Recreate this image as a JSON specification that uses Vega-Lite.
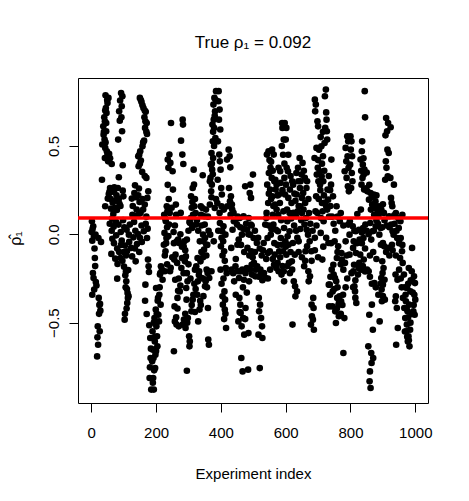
{
"$schema":"https://vega.github.io/schema/vega-lite/v6.json",
"width":350,"height":325,
"autosize":{"type":"none"},
"padding":{"left":78,"top":78,"right":41,"bottom":98},
"background":"white",
"title":{"text":"True ρ₁ = 0.092","fontSize":17,"fontWeight":"normal","font":"Liberation Sans","color":"black","anchor":"middle","baseline":"alphabetic","offset":13},
"config":{"view":{"stroke":"black","strokeWidth":1},"axis":{"grid":false,"domain":false,"tickColor":"black","tickSize":9,"labelFont":"Liberation Sans","labelFontSize":15,"labelColor":"black","titleFont":"Liberation Sans","titleFontSize":15,"titleFontWeight":"normal","titleColor":"black"}},
"layer":[
{"data":{"values":[
{"i":44,"rho":0.787},{"i":53,"rho":0.772},{"i":50,"rho":0.743},{"i":45,"rho":0.715},{"i":47,"rho":0.687},{"i":40,"rho":0.662},{"i":42,"rho":0.640},{"i":37,"rho":0.611},{"i":46,"rho":0.583},{"i":38,"rho":0.564},{"i":41,"rho":0.536},{"i":34,"rho":0.508},{"i":43,"rho":0.489},{"i":48,"rho":0.470},{"i":55,"rho":0.455},{"i":42,"rho":0.432},{"i":52,"rho":0.413},{"i":63,"rho":0.398},
{"i":92,"rho":0.800},{"i":96,"rho":0.781},{"i":89,"rho":0.757},{"i":94,"rho":0.725},{"i":86,"rho":0.696},{"i":93,"rho":0.662},{"i":88,"rho":0.643},{"i":95,"rho":0.583},{"i":83,"rho":0.536},{"i":97,"rho":0.391},{"i":85,"rho":0.323},
{"i":150,"rho":0.772},{"i":155,"rho":0.749},{"i":161,"rho":0.715},{"i":168,"rho":0.693},{"i":164,"rho":0.662},{"i":171,"rho":0.630},{"i":166,"rho":0.602},{"i":172,"rho":0.568},{"i":163,"rho":0.530},{"i":158,"rho":0.498},{"i":151,"rho":0.470},{"i":145,"rho":0.442},{"i":153,"rho":0.417},{"i":146,"rho":0.385},{"i":157,"rho":0.353},{"i":170,"rho":0.319},
{"i":33,"rho":0.309},
{"i":58,"rho":0.262},{"i":71,"rho":0.266},{"i":82,"rho":0.262},{"i":97,"rho":0.247},{"i":54,"rho":0.228},{"i":78,"rho":0.221},{"i":99,"rho":0.215},{"i":51,"rho":0.202},{"i":75,"rho":0.191},{"i":87,"rho":0.172},{"i":43,"rho":0.159},{"i":61,"rho":0.145},{"i":79,"rho":0.138},{"i":68,"rho":0.115},
{"i":135,"rho":0.277},{"i":147,"rho":0.259},{"i":133,"rho":0.234},{"i":125,"rho":0.202},{"i":149,"rho":0.183},{"i":165,"rho":0.168},{"i":160,"rho":0.140},{"i":140,"rho":0.140},{"i":127,"rho":0.111},{"i":143,"rho":0.108},{"i":176,"rho":0.243},{"i":173,"rho":0.206},
{"i":2,"rho":0.074},{"i":6,"rho":0.045},{"i":1,"rho":0.013},{"i":13,"rho":-0.002},{"i":3,"rho":-0.036},{"i":22,"rho":-0.021},{"i":30,"rho":-0.043},{"i":64,"rho":0.089},{"i":76,"rho":0.070},{"i":69,"rho":0.043},{"i":84,"rho":0.055},{"i":102,"rho":0.040},{"i":91,"rho":0.013},{"i":109,"rho":0.026},{"i":119,"rho":0.055},{"i":116,"rho":-0.002},{"i":130,"rho":-0.017},{"i":144,"rho":0.002},{"i":162,"rho":0.017},{"i":174,"rho":0.032},{"i":172,"rho":-0.021},{"i":156,"rho":-0.043},{"i":141,"rho":-0.055},{"i":117,"rho":-0.043},{"i":104,"rho":-0.064},{"i":94,"rho":-0.036},{"i":77,"rho":-0.006},{"i":65,"rho":-0.025},{"i":110,"rho":-0.096},{"i":123,"rho":-0.077},
{"i":11,"rho":-0.134},{"i":62,"rho":-0.111},{"i":74,"rho":-0.138},{"i":90,"rho":-0.134},{"i":81,"rho":-0.168},{"i":101,"rho":-0.183},{"i":126,"rho":-0.125},{"i":137,"rho":-0.153},{"i":114,"rho":-0.202},{"i":105,"rho":-0.232},{"i":108,"rho":-0.266},{"i":106,"rho":-0.300},{"i":112,"rho":-0.332},{"i":113,"rho":-0.360},{"i":111,"rho":-0.389},{"i":103,"rho":-0.483},{"i":80,"rho":-0.251},{"i":5,"rho":-0.219},{"i":7,"rho":-0.247},{"i":14,"rho":-0.270},{"i":9,"rho":-0.313},{"i":3,"rho":-0.342},{"i":23,"rho":-0.360},{"i":27,"rho":-0.394},{"i":28,"rho":-0.432},{"i":175,"rho":-0.143},{"i":177,"rho":-0.181},{"i":178,"rho":-0.213},{"i":167,"rho":-0.285},{"i":166,"rho":-0.376},{"i":171,"rho":-0.451},{"i":179,"rho":-0.515},
{"i":20,"rho":-0.521},{"i":26,"rho":-0.549},{"i":19,"rho":-0.583},{"i":21,"rho":-0.625},{"i":18,"rho":-0.691},{"i":182,"rho":-0.587},{"i":184,"rho":-0.647},{"i":183,"rho":-0.700},{"i":181,"rho":-0.753},{"i":180,"rho":-0.813},{"i":185,"rho":-0.879},
{"i":4,"rho":0.03},{"i":8,"rho":-0.01},{"i":10,"rho":-0.08},{"i":12,"rho":-0.18},{"i":16,"rho":-0.29},{"i":24,"rho":-0.45},{"i":25,"rho":-0.40},
{"i":56,"rho":0.24},{"i":60,"rho":0.20},{"i":66,"rho":0.18},{"i":70,"rho":0.24},{"i":73,"rho":0.15},{"i":80,"rho":0.19},{"i":85,"rho":0.20},{"i":90,"rho":0.16},{"i":98,"rho":0.08},{"i":57,"rho":0.06},{"i":63,"rho":0.02},{"i":70,"rho":-0.05},{"i":80,"rho":-0.08},{"i":86,"rho":-0.10},{"i":92,"rho":-0.06},{"i":96,"rho":-0.15},{"i":100,"rho":-0.10},{"i":107,"rho":-0.12},
{"i":107,"rho":-0.21},{"i":110,"rho":-0.31},{"i":115,"rho":-0.35},{"i":109,"rho":-0.42},{"i":104,"rho":-0.45},
{"i":128,"rho":0.16},{"i":132,"rho":0.07},{"i":136,"rho":0.02},{"i":138,"rho":0.21},{"i":145,"rho":0.22},{"i":152,"rho":0.12},{"i":155,"rho":0.05},{"i":158,"rho":0.20},{"i":168,"rho":0.06},{"i":170,"rho":0.10},{"i":150,"rho":-0.02},{"i":135,"rho":-0.08},{"i":148,"rho":-0.10},
{"i":49,"rho":0.76},{"i":43,"rho":0.70},{"i":46,"rho":0.63},{"i":39,"rho":0.58},{"i":44,"rho":0.52},{"i":50,"rho":0.45},{"i":58,"rho":0.43},
{"i":153,"rho":0.76},{"i":158,"rho":0.73},{"i":165,"rho":0.70},{"i":167,"rho":0.64},{"i":170,"rho":0.58},{"i":160,"rho":0.52},{"i":148,"rho":0.45},{"i":150,"rho":0.40},{"i":165,"rho":0.33},
{"i":385,"rho":0.810},{"i":380,"rho":0.772},{"i":377,"rho":0.734},{"i":382,"rho":0.696},{"i":378,"rho":0.649},{"i":374,"rho":0.621},{"i":379,"rho":0.602},{"i":383,"rho":0.545},{"i":375,"rho":0.526},{"i":371,"rho":0.460},{"i":376,"rho":0.432},{"i":369,"rho":0.394},{"i":373,"rho":0.366},{"i":368,"rho":0.319},{"i":372,"rho":0.281},{"i":370,"rho":0.243},
{"i":246,"rho":0.630},{"i":282,"rho":0.649},{"i":283,"rho":0.621},{"i":277,"rho":0.530},{"i":241,"rho":0.451},{"i":236,"rho":0.423},{"i":244,"rho":0.404},{"i":238,"rho":0.376},{"i":251,"rho":0.357},{"i":281,"rho":0.451},{"i":284,"rho":0.398},{"i":316,"rho":0.366},{"i":344,"rho":0.334},{"i":252,"rho":0.253},{"i":317,"rho":0.281},{"i":313,"rho":0.262},
{"i":261,"rho":0.168},{"i":233,"rho":0.159},{"i":235,"rho":0.130},{"i":308,"rho":0.215},{"i":312,"rho":0.183},{"i":318,"rho":0.159},{"i":338,"rho":0.159},{"i":343,"rho":0.149},{"i":354,"rho":0.140},{"i":366,"rho":0.168},{"i":381,"rho":0.149},
{"i":225,"rho":0.111},{"i":242,"rho":0.121},{"i":262,"rho":0.111},{"i":276,"rho":0.121},{"i":307,"rho":0.092},{"i":314,"rho":0.111},{"i":339,"rho":0.111},{"i":349,"rho":0.102},
{"i":230,"rho":0.074},{"i":240,"rho":0.055},{"i":226,"rho":0.008},{"i":232,"rho":-0.021},{"i":224,"rho":-0.059},{"i":229,"rho":-0.096},{"i":254,"rho":0.013},{"i":264,"rho":-0.040},{"i":271,"rho":-0.049},{"i":287,"rho":-0.040},{"i":285,"rho":-0.068},{"i":305,"rho":0.064},{"i":311,"rho":0.036},{"i":323,"rho":0.055},{"i":350,"rho":0.055},{"i":345,"rho":-0.002},{"i":351,"rho":-0.021},{"i":355,"rho":-0.059},{"i":348,"rho":-0.087},{"i":346,"rho":-0.040},{"i":367,"rho":-0.002},{"i":378,"rho":-0.040},
{"i":215,"rho":-0.181},{"i":227,"rho":-0.209},{"i":212,"rho":-0.228},{"i":220,"rho":-0.257},{"i":243,"rho":-0.209},{"i":256,"rho":-0.143},{"i":260,"rho":-0.115},{"i":265,"rho":-0.162},{"i":280,"rho":-0.134},{"i":292,"rho":-0.125},{"i":289,"rho":-0.153},{"i":278,"rho":-0.191},{"i":328,"rho":-0.134},{"i":337,"rho":-0.153},{"i":324,"rho":-0.181},{"i":333,"rho":-0.209},{"i":356,"rho":-0.200},{"i":359,"rho":-0.219},{"i":371,"rho":-0.209},{"i":364,"rho":-0.247},{"i":353,"rho":-0.266},{"i":351,"rho":-0.294},{"i":259,"rho":-0.257},{"i":297,"rho":-0.266},{"i":293,"rho":-0.304},{"i":315,"rho":-0.342},{"i":329,"rho":-0.266},{"i":340,"rho":-0.247},
{"i":200,"rho":-0.304},{"i":210,"rho":-0.342},{"i":205,"rho":-0.376},{"i":214,"rho":-0.398},{"i":199,"rho":-0.426},{"i":207,"rho":-0.455},{"i":195,"rho":-0.474},{"i":209,"rho":-0.493},{"i":201,"rho":-0.521},{"i":189,"rho":-0.549},{"i":203,"rho":-0.577},{"i":196,"rho":-0.606},{"i":204,"rho":-0.634},{"i":190,"rho":-0.653},
{"i":257,"rho":-0.408},{"i":266,"rho":-0.360},{"i":273,"rho":-0.323},{"i":258,"rho":-0.493},{"i":263,"rho":-0.511},{"i":270,"rho":-0.521},{"i":286,"rho":-0.483},{"i":298,"rho":-0.474},{"i":282,"rho":-0.511},{"i":291,"rho":-0.530},{"i":302,"rho":-0.577},{"i":304,"rho":-0.606},{"i":303,"rho":-0.634},{"i":294,"rho":-0.370},{"i":313,"rho":-0.370},{"i":327,"rho":-0.342},{"i":336,"rho":-0.376},{"i":334,"rho":-0.426},{"i":309,"rho":-0.436},{"i":330,"rho":-0.493},{"i":360,"rho":-0.417},{"i":361,"rho":-0.596},{"i":363,"rho":-0.625},{"i":255,"rho":-0.662},
{"i":198,"rho":-0.681},{"i":188,"rho":-0.719},{"i":197,"rho":-0.757},{"i":191,"rho":-0.813},{"i":193,"rho":-0.879},{"i":295,"rho":-0.772},
{"i":193,"rho":-0.50},{"i":197,"rho":-0.58},{"i":202,"rho":-0.45},{"i":206,"rho":-0.36},{"i":211,"rho":-0.30},{"i":213,"rho":-0.22},{"i":218,"rho":-0.20},{"i":200,"rho":-0.66},{"i":192,"rho":-0.70},{"i":194,"rho":-0.77},{"i":190,"rho":-0.84},
{"i":228,"rho":0.09},{"i":234,"rho":0.04},{"i":238,"rho":-0.01},{"i":231,"rho":-0.05},{"i":227,"rho":-0.12},{"i":234,"rho":-0.17},{"i":245,"rho":-0.19},{"i":250,"rho":-0.13},{"i":255,"rho":-0.05},{"i":258,"rho":0.05},{"i":248,"rho":0.15},{"i":239,"rho":0.20},{"i":236,"rho":0.28},
{"i":268,"rho":-0.03},{"i":275,"rho":0.0},{"i":280,"rho":-0.07},{"i":290,"rho":-0.09},{"i":295,"rho":-0.03},{"i":300,"rho":0.02},{"i":303,"rho":0.07},{"i":270,"rho":-0.25},{"i":268,"rho":-0.32},{"i":275,"rho":-0.29},{"i":285,"rho":-0.22},{"i":300,"rho":-0.17},{"i":295,"rho":-0.22},{"i":306,"rho":-0.25},{"i":266,"rho":-0.42},{"i":262,"rho":-0.47},{"i":290,"rho":-0.45},{"i":296,"rho":-0.50},
{"i":310,"rho":0.15},{"i":320,"rho":0.20},{"i":322,"rho":0.12},{"i":326,"rho":0.08},{"i":330,"rho":0.02},{"i":335,"rho":-0.04},{"i":340,"rho":-0.10},{"i":345,"rho":-0.13},{"i":355,"rho":-0.12},{"i":358,"rho":-0.06},{"i":362,"rho":0.02},{"i":360,"rho":0.10},{"i":340,"rho":0.05},{"i":320,"rho":-0.20},{"i":318,"rho":-0.28},{"i":322,"rho":-0.31},{"i":332,"rho":-0.23},{"i":345,"rho":-0.25},{"i":357,"rho":-0.30},{"i":362,"rho":-0.21},{"i":310,"rho":-0.40},{"i":320,"rho":-0.44},{"i":338,"rho":-0.40},{"i":346,"rho":-0.35},
{"i":384,"rho":0.76},{"i":381,"rho":0.67},{"i":376,"rho":0.58},{"i":379,"rho":0.50},{"i":372,"rho":0.40},{"i":375,"rho":0.34},{"i":366,"rho":0.30},{"i":371,"rho":0.21},{"i":385,"rho":0.20},
{"i":393,"rho":0.810},{"i":392,"rho":0.753},{"i":396,"rho":0.706},{"i":394,"rho":0.649},{"i":398,"rho":0.593},{"i":391,"rho":0.526},{"i":395,"rho":0.451},{"i":397,"rho":0.413},{"i":399,"rho":0.366},{"i":390,"rho":0.309},{"i":401,"rho":0.262},{"i":403,"rho":0.225},{"i":389,"rho":0.177},{"i":402,"rho":0.159},{"i":409,"rho":0.140},{"i":396,"rho":0.121},
{"i":424,"rho":0.479},{"i":427,"rho":0.442},{"i":419,"rho":0.423},{"i":429,"rho":0.379},{"i":425,"rho":0.262},{"i":431,"rho":0.215},{"i":428,"rho":0.187},{"i":434,"rho":0.168},{"i":420,"rho":0.159},{"i":435,"rho":0.140},{"i":439,"rho":0.121},{"i":430,"rho":0.111},
{"i":499,"rho":0.338},{"i":491,"rho":0.281},{"i":475,"rho":0.272},{"i":489,"rho":0.234},{"i":493,"rho":0.206},
{"i":589,"rho":0.630},{"i":590,"rho":0.602},{"i":594,"rho":0.536},{"i":547,"rho":0.470},{"i":558,"rho":0.479},{"i":563,"rho":0.451},{"i":542,"rho":0.451},{"i":553,"rho":0.376},{"i":548,"rho":0.347},{"i":578,"rho":0.376},{"i":583,"rho":0.357},{"i":557,"rho":0.319},{"i":568,"rho":0.309},{"i":584,"rho":0.291},{"i":543,"rho":0.281},{"i":552,"rho":0.253},{"i":569,"rho":0.253},{"i":579,"rho":0.225},{"i":559,"rho":0.215},{"i":546,"rho":0.177},{"i":567,"rho":0.168},{"i":582,"rho":0.177},{"i":541,"rho":0.121},{"i":560,"rho":0.111},{"i":577,"rho":0.111},{"i":593,"rho":0.130},
{"i":397,"rho":0.064},{"i":408,"rho":0.045},{"i":404,"rho":0.017},{"i":414,"rho":-0.002},{"i":407,"rho":-0.040},{"i":400,"rho":-0.068},{"i":410,"rho":-0.096},{"i":440,"rho":0.074},{"i":450,"rho":0.055},{"i":436,"rho":0.026},{"i":458,"rho":0.092},{"i":470,"rho":0.102},{"i":486,"rho":0.092},{"i":492,"rho":0.055},{"i":481,"rho":0.026},{"i":465,"rho":-0.002},{"i":455,"rho":-0.030},{"i":490,"rho":-0.002},{"i":501,"rho":-0.021},{"i":511,"rho":-0.049},{"i":532,"rho":-0.049},{"i":544,"rho":-0.021},{"i":554,"rho":-0.002},{"i":537,"rho":0.055},{"i":540,"rho":0.092},{"i":562,"rho":0.055},{"i":570,"rho":0.026},{"i":576,"rho":0.017},{"i":585,"rho":-0.021},{"i":588,"rho":-0.059},{"i":580,"rho":-0.096},{"i":566,"rho":-0.115},{"i":551,"rho":-0.096},{"i":545,"rho":-0.106},{"i":482,"rho":-0.077},{"i":494,"rho":-0.096},{"i":451,"rho":-0.059},{"i":432,"rho":-0.077},
{"i":399,"rho":-0.200},{"i":415,"rho":-0.191},{"i":433,"rho":-0.200},{"i":445,"rho":-0.181},{"i":452,"rho":-0.209},{"i":466,"rho":-0.200},{"i":480,"rho":-0.191},{"i":495,"rho":-0.172},{"i":502,"rho":-0.162},{"i":512,"rho":-0.181},{"i":522,"rho":-0.200},{"i":523,"rho":-0.228},{"i":506,"rho":-0.238},{"i":496,"rho":-0.228},{"i":487,"rho":-0.266},{"i":471,"rho":-0.257},{"i":456,"rho":-0.247},{"i":441,"rho":-0.266},{"i":533,"rho":-0.219},{"i":538,"rho":-0.247},{"i":564,"rho":-0.172},{"i":571,"rho":-0.191},{"i":578,"rho":-0.209},{"i":587,"rho":-0.228},{"i":595,"rho":-0.266},{"i":575,"rho":-0.162},
{"i":411,"rho":-0.323},{"i":405,"rho":-0.351},{"i":413,"rho":-0.370},{"i":406,"rho":-0.398},{"i":412,"rho":-0.426},{"i":416,"rho":-0.530},{"i":446,"rho":-0.342},{"i":457,"rho":-0.360},{"i":460,"rho":-0.398},{"i":476,"rho":-0.417},{"i":461,"rho":-0.445},{"i":469,"rho":-0.474},{"i":454,"rho":-0.493},{"i":464,"rho":-0.521},{"i":485,"rho":-0.559},{"i":472,"rho":-0.568},{"i":517,"rho":-0.360},{"i":521,"rho":-0.398},{"i":518,"rho":-0.436},{"i":524,"rho":-0.474},{"i":527,"rho":-0.521},{"i":516,"rho":-0.568},{"i":528,"rho":-0.587},
{"i":463,"rho":-0.700},{"i":467,"rho":-0.776},{"i":484,"rho":-0.766},{"i":520,"rho":-0.757},
{"i":392,"rho":0.02},{"i":402,"rho":-0.02},{"i":405,"rho":-0.12},{"i":412,"rho":-0.15},{"i":418,"rho":-0.22},{"i":408,"rho":-0.25},{"i":402,"rho":-0.28},{"i":414,"rho":-0.45},{"i":410,"rho":-0.48},
{"i":445,"rho":0.08},{"i":452,"rho":0.10},{"i":460,"rho":0.04},{"i":470,"rho":0.03},{"i":478,"rho":0.06},{"i":485,"rho":0.0},{"i":495,"rho":0.05},{"i":505,"rho":0.02},{"i":515,"rho":-0.02},{"i":520,"rho":-0.08},{"i":526,"rho":-0.12},{"i":530,"rho":-0.09},{"i":540,"rho":-0.14},{"i":505,"rho":-0.10},{"i":498,"rho":-0.13},{"i":488,"rho":-0.12},{"i":472,"rho":-0.10},{"i":462,"rho":-0.06},{"i":446,"rho":-0.14},{"i":438,"rho":-0.22},{"i":460,"rho":-0.21},{"i":476,"rho":-0.22},{"i":490,"rho":-0.20},{"i":508,"rho":-0.20},{"i":517,"rho":-0.24},{"i":528,"rho":-0.26},{"i":468,"rho":-0.30},{"i":480,"rho":-0.33},{"i":458,"rho":-0.44},{"i":475,"rho":-0.48},
{"i":550,"rho":0.42},{"i":555,"rho":0.41},{"i":560,"rho":0.36},{"i":565,"rho":0.30},{"i":572,"rho":0.28},{"i":575,"rho":0.22},{"i":548,"rho":0.23},{"i":555,"rho":0.20},{"i":562,"rho":0.16},{"i":572,"rho":0.14},{"i":586,"rho":0.08},{"i":590,"rho":0.25},{"i":592,"rho":0.45},{"i":596,"rho":0.40},{"i":588,"rho":0.50},{"i":548,"rho":0.05},{"i":556,"rho":0.03},{"i":565,"rho":-0.05},{"i":575,"rho":-0.06},{"i":583,"rho":-0.13},{"i":590,"rho":-0.18},{"i":560,"rho":-0.14},{"i":552,"rho":-0.20},{"i":545,"rho":-0.25},
{"i":724,"rho":0.819},{"i":721,"rho":0.781},{"i":690,"rho":0.762},{"i":693,"rho":0.734},{"i":691,"rho":0.696},{"i":726,"rho":0.649},{"i":700,"rho":0.611},{"i":722,"rho":0.602},{"i":727,"rho":0.583},{"i":728,"rho":0.536},{"i":720,"rho":0.517},{"i":710,"rho":0.498},{"i":695,"rho":0.489},{"i":703,"rho":0.479},{"i":715,"rho":0.442},{"i":689,"rho":0.432},{"i":741,"rho":0.423},{"i":699,"rho":0.376},{"i":705,"rho":0.357},{"i":696,"rho":0.338},{"i":711,"rho":0.328},{"i":716,"rho":0.300},{"i":706,"rho":0.281},{"i":729,"rho":0.253},{"i":740,"rho":0.281},{"i":746,"rho":0.215},{"i":731,"rho":0.196},{"i":694,"rho":0.215},{"i":712,"rho":0.177},{"i":725,"rho":0.159},{"i":757,"rho":0.159},{"i":714,"rho":0.130},{"i":692,"rho":0.130},
{"i":597,"rho":0.630},{"i":602,"rho":0.602},{"i":600,"rho":0.536},{"i":603,"rho":0.376},{"i":607,"rho":0.357},{"i":596,"rho":0.319},{"i":601,"rho":0.281},{"i":613,"rho":0.253},{"i":598,"rho":0.225},{"i":608,"rho":0.206},{"i":618,"rho":0.177},{"i":604,"rho":0.140},
{"i":643,"rho":0.432},{"i":652,"rho":0.404},{"i":638,"rho":0.376},{"i":633,"rho":0.347},{"i":649,"rho":0.338},{"i":659,"rho":0.319},{"i":639,"rho":0.300},{"i":623,"rho":0.281},{"i":644,"rho":0.262},{"i":664,"rho":0.262},{"i":654,"rho":0.234},{"i":634,"rho":0.225},{"i":650,"rho":0.206},{"i":660,"rho":0.177},{"i":645,"rho":0.159},{"i":655,"rho":0.140},{"i":637,"rho":0.130},{"i":624,"rho":0.121},{"i":632,"rho":0.102},
{"i":790,"rho":0.555},{"i":793,"rho":0.526},{"i":785,"rho":0.489},{"i":791,"rho":0.442},{"i":787,"rho":0.413},{"i":794,"rho":0.376},{"i":782,"rho":0.357},{"i":788,"rho":0.319},{"i":792,"rho":0.272},{"i":795,"rho":0.243},
{"i":605,"rho":0.074},{"i":595,"rho":0.036},{"i":612,"rho":0.017},{"i":606,"rho":-0.011},{"i":599,"rho":-0.040},{"i":609,"rho":-0.059},{"i":622,"rho":-0.049},{"i":640,"rho":-0.040},{"i":663,"rho":0.092},{"i":658,"rho":0.055},{"i":665,"rho":0.026},{"i":669,"rho":-0.002},{"i":674,"rho":-0.040},{"i":666,"rho":-0.068},{"i":661,"rho":-0.096},{"i":679,"rho":-0.096},{"i":709,"rho":0.092},{"i":717,"rho":0.074},{"i":708,"rho":0.008},{"i":732,"rho":-0.049},{"i":751,"rho":-0.040},{"i":762,"rho":-0.068},{"i":772,"rho":-0.106},{"i":767,"rho":0.074},{"i":793,"rho":0.055},{"i":797,"rho":-0.002},{"i":758,"rho":-0.134},{"i":773,"rho":-0.143},{"i":783,"rho":-0.162},
{"i":592,"rho":-0.096},{"i":602,"rho":-0.115},{"i":628,"rho":-0.115},{"i":619,"rho":-0.153},{"i":610,"rho":-0.162},{"i":594,"rho":-0.209},{"i":713,"rho":-0.143},{"i":657,"rho":-0.181},{"i":670,"rho":-0.209},{"i":675,"rho":-0.238},{"i":671,"rho":-0.266},{"i":625,"rho":-0.266},{"i":629,"rho":-0.294},{"i":635,"rho":-0.323},{"i":630,"rho":-0.351},
{"i":747,"rho":-0.172},{"i":742,"rho":-0.200},{"i":748,"rho":-0.228},{"i":752,"rho":-0.247},{"i":756,"rho":-0.266},{"i":736,"rho":-0.285},{"i":745,"rho":-0.323},{"i":737,"rho":-0.342},{"i":759,"rho":-0.360},{"i":766,"rho":-0.351},{"i":777,"rho":-0.342},{"i":771,"rho":-0.379},{"i":763,"rho":-0.398},{"i":744,"rho":-0.408},{"i":753,"rho":-0.436},{"i":764,"rho":-0.464},{"i":781,"rho":-0.474},{"i":755,"rho":-0.502},{"i":733,"rho":-0.285},{"i":734,"rho":-0.408},
{"i":685,"rho":-0.360},{"i":680,"rho":-0.398},{"i":686,"rho":-0.417},{"i":681,"rho":-0.464},{"i":684,"rho":-0.483},{"i":678,"rho":-0.511},{"i":687,"rho":-0.540},{"i":621,"rho":-0.511},{"i":778,"rho":-0.672},
{"i":608,"rho":0.45},{"i":615,"rho":0.33},{"i":620,"rho":0.30},{"i":612,"rho":0.12},{"i":617,"rho":0.09},{"i":626,"rho":0.05},{"i":632,"rho":0.02},{"i":636,"rho":-0.02},{"i":645,"rho":0.03},{"i":648,"rho":0.08},{"i":650,"rho":0.12},{"i":640,"rho":0.16},{"i":630,"rho":0.19},{"i":627,"rho":0.23},{"i":646,"rho":0.30},{"i":656,"rho":0.36},{"i":666,"rho":0.30},{"i":670,"rho":0.20},{"i":672,"rho":0.12},{"i":676,"rho":0.06},{"i":683,"rho":0.02},{"i":690,"rho":-0.02},{"i":695,"rho":0.05},{"i":698,"rho":0.12},{"i":702,"rho":0.20},{"i":707,"rho":0.25},{"i":701,"rho":0.30},{"i":718,"rho":0.22},{"i":722,"rho":0.18},{"i":728,"rho":0.14},{"i":734,"rho":0.10},{"i":738,"rho":0.16},{"i":743,"rho":0.10},{"i":748,"rho":0.06},{"i":753,"rho":0.02},{"i":700,"rho":0.42},{"i":712,"rho":0.40},{"i":719,"rho":0.36},{"i":733,"rho":0.33},{"i":737,"rho":0.25},{"i":708,"rho":0.55},{"i":715,"rho":0.58},{"i":725,"rho":0.69},{"i":698,"rho":0.64},
{"i":600,"rho":-0.07},{"i":615,"rho":-0.10},{"i":605,"rho":-0.18},{"i":613,"rho":-0.22},{"i":620,"rho":-0.20},{"i":640,"rho":-0.10},{"i":650,"rho":-0.13},{"i":660,"rho":-0.15},{"i":680,"rho":-0.15},{"i":690,"rho":-0.09},{"i":700,"rho":-0.13},{"i":716,"rho":-0.07},{"i":725,"rho":-0.02},{"i":740,"rho":-0.05},{"i":760,"rho":-0.10},{"i":770,"rho":-0.17},{"i":778,"rho":-0.20},{"i":788,"rho":-0.12},{"i":785,"rho":-0.04},{"i":778,"rho":0.05},{"i":770,"rho":0.12},{"i":760,"rho":0.10},
{"i":738,"rho":-0.24},{"i":750,"rho":-0.31},{"i":760,"rho":-0.30},{"i":765,"rho":-0.38},{"i":758,"rho":-0.42},{"i":770,"rho":-0.45},{"i":775,"rho":-0.40},{"i":785,"rho":-0.30},{"i":790,"rho":-0.25},
{"i":844,"rho":0.810},{"i":845,"rho":0.662},{"i":910,"rho":0.658},{"i":916,"rho":0.630},{"i":924,"rho":0.606},{"i":913,"rho":0.583},{"i":908,"rho":0.560},{"i":836,"rho":0.526},{"i":914,"rho":0.479},{"i":918,"rho":0.460},{"i":909,"rho":0.413},{"i":911,"rho":0.376},{"i":915,"rho":0.328},{"i":923,"rho":0.319},{"i":934,"rho":0.281},{"i":907,"rho":0.309},
{"i":800,"rho":0.555},{"i":803,"rho":0.526},{"i":801,"rho":0.479},{"i":805,"rho":0.442},{"i":799,"rho":0.394},{"i":804,"rho":0.347},{"i":806,"rho":0.300},{"i":802,"rho":0.262},
{"i":835,"rho":0.470},{"i":831,"rho":0.423},{"i":838,"rho":0.394},{"i":843,"rho":0.366},{"i":841,"rho":0.338},{"i":837,"rho":0.319},{"i":834,"rho":0.281},{"i":842,"rho":0.253},{"i":852,"rho":0.243},{"i":862,"rho":0.234},{"i":872,"rho":0.225},{"i":857,"rho":0.196},{"i":867,"rho":0.168},{"i":863,"rho":0.140},{"i":877,"rho":0.187},{"i":888,"rho":0.159},{"i":882,"rho":0.140},{"i":925,"rho":0.206},{"i":927,"rho":0.177},{"i":929,"rho":0.159},
{"i":821,"rho":0.115},{"i":832,"rho":0.140},{"i":873,"rho":0.111},{"i":887,"rho":0.111},{"i":903,"rho":0.121},{"i":919,"rho":0.102},{"i":935,"rho":0.108},{"i":960,"rho":0.111},{"i":954,"rho":0.074},{"i":949,"rho":0.036},
{"i":798,"rho":0.074},{"i":807,"rho":0.045},{"i":816,"rho":0.017},{"i":826,"rho":0.026},{"i":839,"rho":0.036},{"i":846,"rho":0.055},{"i":861,"rho":0.064},{"i":878,"rho":0.045},{"i":893,"rho":0.036},{"i":889,"rho":-0.002},{"i":868,"rho":0.017},{"i":926,"rho":0.055},{"i":930,"rho":0.017},{"i":933,"rho":-0.002},{"i":944,"rho":-0.021},{"i":955,"rho":-0.021},{"i":928,"rho":-0.059},{"i":917,"rho":-0.077},{"i":904,"rho":-0.068},{"i":894,"rho":-0.059},{"i":840,"rho":-0.021},{"i":822,"rho":-0.049},{"i":810,"rho":-0.040},{"i":808,"rho":-0.077},{"i":990,"rho":-0.077},{"i":959,"rho":-0.096},
{"i":797,"rho":-0.115},{"i":817,"rho":-0.106},{"i":830,"rho":-0.115},{"i":841,"rho":-0.143},{"i":827,"rho":-0.162},{"i":811,"rho":-0.172},{"i":833,"rho":-0.200},{"i":809,"rho":-0.209},{"i":823,"rho":-0.228},{"i":851,"rho":-0.200},{"i":856,"rho":-0.209},{"i":898,"rho":-0.153},{"i":902,"rho":-0.191},{"i":899,"rho":-0.219},{"i":895,"rho":-0.247},{"i":905,"rho":-0.257},{"i":900,"rho":-0.285},{"i":896,"rho":-0.313},{"i":874,"rho":-0.276},{"i":812,"rho":-0.294},{"i":814,"rho":-0.323},{"i":815,"rho":-0.360},{"i":818,"rho":-0.389},
{"i":953,"rho":-0.134},{"i":961,"rho":-0.162},{"i":950,"rho":-0.200},{"i":939,"rho":-0.228},{"i":945,"rho":-0.257},{"i":965,"rho":-0.228},{"i":980,"rho":-0.191},{"i":989,"rho":-0.209},{"i":996,"rho":-0.238},{"i":991,"rho":-0.266},{"i":999,"rho":-0.276},{"i":975,"rho":-0.304},{"i":985,"rho":-0.323},{"i":997,"rho":-0.342},{"i":1000,"rho":-0.370},{"i":970,"rho":-0.342},{"i":962,"rho":-0.360},{"i":971,"rho":-0.379},{"i":940,"rho":-0.351},{"i":938,"rho":-0.379},{"i":943,"rho":-0.417},{"i":966,"rho":-0.417},{"i":981,"rho":-0.398},{"i":976,"rho":-0.436},{"i":969,"rho":-0.474},{"i":994,"rho":-0.436},{"i":998,"rho":-0.455},{"i":906,"rho":-0.370},{"i":897,"rho":-0.379},{"i":886,"rho":-0.342},{"i":866,"rho":-0.398},{"i":858,"rho":-0.455},{"i":890,"rho":-0.493},{"i":869,"rho":-0.540},
{"i":974,"rho":-0.511},{"i":984,"rho":-0.540},{"i":972,"rho":-0.549},{"i":979,"rho":-0.577},{"i":977,"rho":-0.606},{"i":982,"rho":-0.634},{"i":946,"rho":-0.530},{"i":941,"rho":-0.625},{"i":855,"rho":-0.634},{"i":864,"rho":-0.672},{"i":870,"rho":-0.700},{"i":865,"rho":-0.728},{"i":860,"rho":-0.776},{"i":859,"rho":-0.832},{"i":862,"rho":-0.870},
{"i":812,"rho":0.02},{"i":818,"rho":-0.05},{"i":828,"rho":-0.03},{"i":835,"rho":0.01},{"i":850,"rho":0.02},{"i":856,"rho":0.0},{"i":864,"rho":-0.03},{"i":872,"rho":0.02},{"i":880,"rho":0.08},{"i":885,"rho":0.06},{"i":898,"rho":0.04},{"i":905,"rho":0.08},{"i":912,"rho":0.05},{"i":920,"rho":0.04},{"i":936,"rho":0.06},{"i":942,"rho":0.02},{"i":950,"rho":-0.05},{"i":960,"rho":-0.06},{"i":900,"rho":-0.05},{"i":910,"rho":-0.10},{"i":920,"rho":-0.12},{"i":930,"rho":-0.09},{"i":940,"rho":-0.12},{"i":880,"rho":-0.14},{"i":870,"rho":-0.10},{"i":860,"rho":-0.12},{"i":845,"rho":-0.08},{"i":835,"rho":-0.05},
{"i":848,"rho":0.26},{"i":858,"rho":0.28},{"i":866,"rho":0.21},{"i":874,"rho":0.16},{"i":880,"rho":0.22},{"i":895,"rho":0.14},{"i":900,"rho":0.17},{"i":940,"rho":0.12},{"i":948,"rho":0.09},{"i":850,"rho":0.35},{"i":840,"rho":0.43},{"i":833,"rho":0.36},
{"i":803,"rho":-0.22},{"i":808,"rho":-0.30},{"i":815,"rho":-0.26},{"i":825,"rho":-0.19},{"i":838,"rho":-0.18},{"i":845,"rho":-0.21},{"i":860,"rho":-0.24},{"i":866,"rho":-0.28},{"i":878,"rho":-0.30},{"i":893,"rho":-0.28},{"i":900,"rho":-0.35},{"i":955,"rho":-0.25},{"i":958,"rho":-0.30},{"i":968,"rho":-0.30},{"i":978,"rho":-0.28},{"i":986,"rho":-0.26},{"i":992,"rho":-0.33},{"i":995,"rho":-0.40},{"i":990,"rho":-0.45},{"i":985,"rho":-0.50},{"i":978,"rho":-0.47},{"i":973,"rho":-0.42},{"i":968,"rho":-0.55},{"i":975,"rho":-0.58},{"i":980,"rho":-0.60}
]},
"mark":{"type":"point","shape":"circle","filled":true,"color":"black","opacity":1,"size":44,"strokeWidth":0},
"encoding":{
"x":{"field":"i","type":"quantitative","scale":{"domain":[-41,1039.2],"nice":false,"zero":false},"axis":{"values":[0,200,400,600,800,1000],"format":"d","labelBaseline":"alphabetic","labelPadding":25,"labelFlush":false,"labelOverlap":false,"title":"Experiment index","titleX":175,"titleY":75,"titleBaseline":"alphabetic","titleAnchor":"middle"}},
"y":{"field":"rho","type":"quantitative","scale":{"domain":[-0.9547,0.8846],"nice":false,"zero":false},"axis":{"values":[-0.5,0,0.5],"format":".1f","labelAngle":270,"labelAlign":"center","labelBaseline":"alphabetic","labelPadding":11,"labelFlush":false,"labelOverlap":false,"title":"ρ̂₁","titleAngle":270,"titleX":-63,"titleY":160,"titleAlign":"center","titleBaseline":"middle","titleFontSize":16}}
}},
{"data":{"values":[{"rho":0.092}]},
"mark":{"type":"rule","color":"#FF0000","strokeWidth":3.5},
"encoding":{"y":{"field":"rho","type":"quantitative"}}}
]
}
